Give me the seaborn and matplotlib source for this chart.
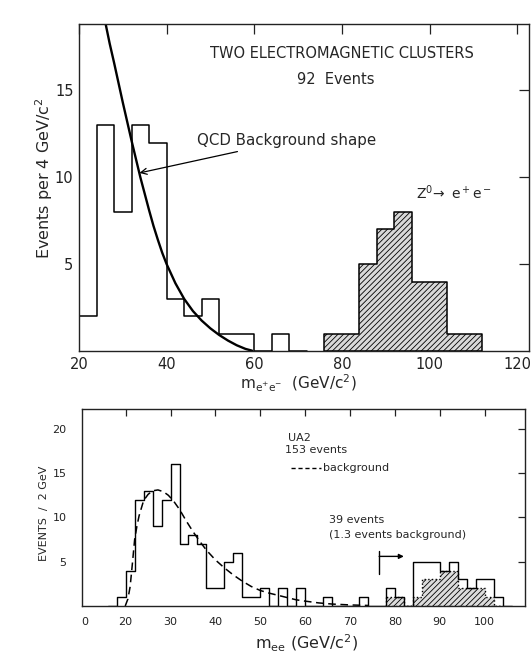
import numpy as np
import pandas as pd
import seaborn as sns
import matplotlib.pyplot as plt

sns.set_theme(style="white")
plt.rcParams['font.family'] = ['DejaVu Sans']
plt.rcParams['hatch.linewidth'] = 0.6
plt.rcParams['hatch.color'] = '#333333'

# ---------------- upper panel: two electromagnetic clusters, 4 GeV bins ----------------
top_edges_bg = [20, 24, 28, 32, 36, 40, 44, 48, 52, 56, 60, 64, 68, 72]
top_counts_bg = [2, 13, 8, 13, 12, 3, 2, 3, 1, 1, 0, 1, 0]
top_edges_z = [76, 80, 84, 88, 92, 96, 100, 104, 108, 112]
top_counts_z = [1, 1, 5, 7, 8, 4, 4, 1, 1]

# QCD background shape
qcd_mass = [26.1, 27.0, 28.0, 29.0, 30.0, 31.0, 32.0, 33.0, 34.0, 35.0, 36.0, 37.0, 38.0, 39.0,
            40.0, 42.0, 44.0, 46.0, 48.0, 50.0, 52.0, 54.0, 56.0, 58.0, 59.5]
qcd_level = [18.8, 17.7, 16.6, 15.45, 14.3, 13.2, 12.1, 11.05, 10.0, 9.05, 8.1, 7.2, 6.4, 5.65,
             5.0, 3.9, 3.0, 2.3, 1.75, 1.3, 0.92, 0.6, 0.33, 0.12, 0.02]

top_xticks = [20, 40, 60, 80, 100, 120]
top_yticks = [5, 10, 15]

# ---------------- lower panel: UA2, 2 GeV bins ----------------
bot_edges = list(range(16, 108, 2))
bot_counts = [0, 1, 4, 12, 13, 9, 12, 16, 7, 8, 7, 2, 2, 5, 6, 1, 1, 2, 0, 2, 0, 2, 0,
              0, 1, 0, 0, 0, 1, 0, 0, 2, 1, 0, 5, 5, 5, 4, 5, 3, 2, 3, 3, 1, 0]
sub_edges = list(range(78, 106, 2))
sub_counts = [1, 1, 0, 1, 3, 3, 4, 4, 2, 2, 2, 1, 0]

bkg_mass = [19.9, 20.5, 21.0, 21.5, 22.0, 22.5, 23.0, 24.0, 25.0, 26.0, 27.2, 28.4, 29.5, 30.6,
            32.0, 33.5, 35.0, 36.5, 38.0, 40.0, 42.0, 44.0, 46.0, 48.0, 50.0, 52.0, 54.0, 56.0,
            58.0, 60.0, 63.0, 66.0, 70.0, 74.0]
bkg_level = [0.0, 0.8, 2.2, 4.8, 7.5, 9.0, 10.2, 11.9, 12.6, 13.0, 13.1, 12.9, 12.5, 11.9,
             10.9, 9.6, 8.4, 7.3, 6.3, 5.2, 4.3, 3.5, 2.8, 2.2, 1.75, 1.45, 1.2, 0.95,
             0.7, 0.55, 0.35, 0.22, 0.12, 0.06]

bot_xticks = [20, 30, 40, 50, 60, 70, 80, 90, 100]
bot_yticks = [5, 10, 15, 20]


def centers(edges):
    e = np.asarray(edges, dtype=float)
    return (e[:-1] + e[1:]) / 2


fig = plt.figure(figsize=(5.31, 6.53), dpi=100)
fig.patch.set_facecolor('white')

# ---- upper axes ----
ax1 = fig.add_axes([79 / 531, 1 - 351 / 653, 450 / 531, (351 - 24.4) / 653])
sns.histplot(x=centers(top_edges_bg), weights=top_counts_bg, bins=top_edges_bg,
             element='step', fill=False, color='black', linewidth=1.1, ax=ax1)
sns.histplot(x=centers(top_edges_z), weights=top_counts_z, bins=top_edges_z,
             element='step', fill=True, color='#d9d9d9', alpha=1.0,
             edgecolor='black', linewidth=1.1, hatch='//////', ax=ax1)
sns.lineplot(x=qcd_mass, y=qcd_level, color='black', linewidth=1.7, ax=ax1,
             estimator=None, sort=False)
ax1.set_xlim(20, 122.7)
ax1.set_ylim(0, 18.8)
ax1.set_xticks(top_xticks)
ax1.set_yticks(top_yticks)
ax1.tick_params(direction='in', length=7, width=0.9, top=True, right=True,
                labelsize=10.5, pad=4, colors='#222222')
for s in ax1.spines.values():
    s.set_linewidth(1.0)
    s.set_color('#222222')
ax1.set_xlabel(r'$\mathrm{m_{e^{+}e^{-}}}$  (GeV/c$^2$)', fontsize=11)
ax1.xaxis.set_label_coords(0.487, -0.098)
ax1.xaxis.label.set_va('center')
ax1.set_ylabel('Events per 4 GeV/c$^2$', fontsize=11.5)
ax1.yaxis.set_label_coords(-0.078, 0.53)
ax1.yaxis.label.set_va('center')

ax1.text(80.1, 17.15, 'TWO ELECTROMAGNETIC CLUSTERS', ha='center', va='center', fontsize=10.5)
ax1.text(78.7, 15.6, '92  Events', ha='center', va='center', fontsize=10.5)
ax1.annotate('QCD Background shape', xy=(33.8, 10.25), xytext=(47.0, 12.1),
             ha='left', va='center', fontsize=10.8,
             arrowprops=dict(arrowstyle='->', color='black', lw=0.9,
                             shrinkA=0, shrinkB=0))
ax1.text(96.9, 9.1, r'Z$^0\!\rightarrow$ e$^+$e$^-$', ha='left', va='center', fontsize=10)

# ---- lower axes ----
ax2 = fig.add_axes([81.7 / 531, 1 - 606 / 653, (525 - 81.7) / 531, (606 - 409.3) / 653])
sns.histplot(x=centers(sub_edges), weights=sub_counts, bins=sub_edges,
             element='step', fill=True, color='#dcdcdc', alpha=1.0,
             edgecolor='black', linewidth=1.0, linestyle=':', hatch='//////', ax=ax2)
sns.histplot(x=centers(bot_edges), weights=bot_counts, bins=bot_edges,
             element='step', fill=False, color='black', linewidth=1.0, ax=ax2)
sns.lineplot(x=bkg_mass, y=bkg_level, color='black', linewidth=1.1, ax=ax2,
             estimator=None, sort=False, linestyle=(0, (5, 3)))
ax2.set_xlim(10.2, 109)
ax2.set_ylim(0, 22.2)
ax2.set_xticks(bot_xticks)
ax2.set_yticks(bot_yticks)
ax2.tick_params(direction='in', length=5, width=0.9, top=True, right=True,
                labelsize=8, pad=8, colors='#222222')
ax2.tick_params(axis='y', pad=11)
for s in ax2.spines.values():
    s.set_linewidth(1.0)
    s.set_color('#222222')
ax2.text(10.8, -1.75, '0', ha='center', va='center', fontsize=8, color='#222222')
ax2.set_xlabel(r'$\mathrm{m_{ee}}$ (GeV/c$^2$)', fontsize=11.5)
ax2.xaxis.set_label_coords(0.507, -0.188)
ax2.xaxis.label.set_va('center')
ax2.set_ylabel('EVENTS  /  2 GeV', fontsize=8)
ax2.yaxis.set_label_coords(-0.085, 0.473)
ax2.yaxis.label.set_va('center')

ax2.text(56.2, 19.0, 'UA2', ha='left', va='center', fontsize=8)
ax2.text(55.5, 17.6, '153 events', ha='left', va='center', fontsize=8)
ax2.plot([56.8, 63.5], [15.6, 15.6], color='black', lw=1.0, linestyle=(0, (3, 2)))
ax2.text(64.0, 15.6, 'background', ha='left', va='center', fontsize=8)
ax2.text(65.3, 9.7, '39 events', ha='left', va='center', fontsize=8)
ax2.text(65.3, 8.0, '(1.3 events background)', ha='left', va='center', fontsize=8)
ax2.plot([76.5, 76.5], [3.6, 6.2], color='black', lw=1.0)
ax2.annotate('', xy=(82.0, 5.6), xytext=(76.5, 5.6),
             arrowprops=dict(arrowstyle='-|>', color='black', lw=1.0,
                             mutation_scale=7, shrinkA=0, shrinkB=0))

fig.savefig('out.png', dpi=100, facecolor='white')
